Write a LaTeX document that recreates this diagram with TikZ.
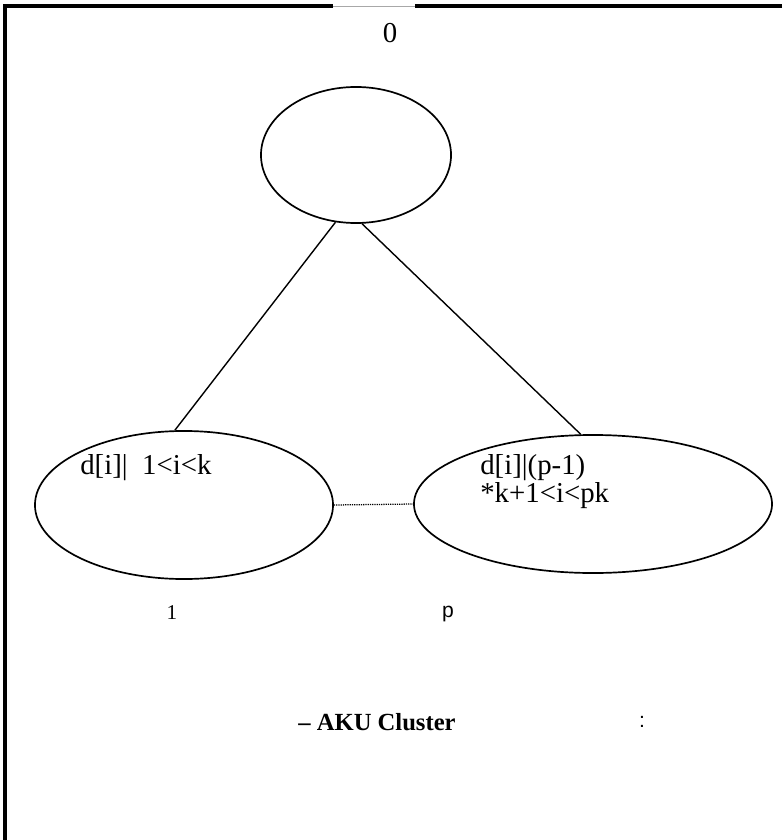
\documentclass[tikz,border=0pt]{standalone}
\usepackage{fontspec}
\setmainfont{Liberation Serif}
\setsansfont{Liberation Sans}
\usetikzlibrary{shapes.geometric}
\definecolor{darkline}{HTML}{000000}
\definecolor{gapgray}{HTML}{A8A8A8}
\tikzset{
  cluster/.style={
    ellipse,
    draw=darkline,
    line width=1.2pt,
    inner sep=0pt
  },
  root/.style={cluster, minimum width=4.75cm, minimum height=3.4cm},
  firstcl/.style={cluster, minimum width=7.45cm, minimum height=3.7cm},
  lastcl/.style={cluster, minimum width=8.95cm, minimum height=3.45cm},
  label/.style={font=\fontsize{20.5}{20}\selectfont, inner sep=0pt, align=left},
  idx/.style={font=\fontsize{15}{18}\selectfont, inner sep=0pt},
  caption/.style={font=\fontsize{17.5}{21}\selectfont\bfseries, inner sep=0pt},
  link/.style={draw=darkline, line width=1pt},
  dotlink/.style={draw=darkline, line width=0.9pt, dash pattern=on 0.8pt off 0.8pt},
  frame/.style={draw=darkline, line width=2.2pt}
}

\begin{document}
\begin{tikzpicture}[x=0.025cm, y=-0.025cm]
\useasboundingbox (0,0) rectangle (782,840);

% Frame.
\draw[frame] (782,6) -- (415,6);
\draw[frame] (333,6) -- (5,6) -- (5,840);
\draw[gapgray, line width=0.6pt] (333,6) -- (415,6);

% Root.
\node[label] (rootnum) at (390,33) {0};
\node[root] (top) at (356,155) {};

% Clusters.
\node[firstcl] (left) at (184,505) {};
\node[lastcl] (right) at (593,504) {};
\node[label, anchor=west] (lefttext) at (80,468) {d[i]|\ \ 1<i<k};
\node[label, anchor=north west] (righttext) at (480,454) {d[i]|(p-1)\\*k+1<i<pk};
\node[idx] (leftnum) at (172,613) {1};
\node[idx, font=\fontsize{15}{18}\selectfont\sffamily] (rightnum) at (448,614) {p};

% Caption.
\node[caption] (cap) at (377,722) {– AKU Cluster};
\node[idx, font=\fontsize{15}{18}\selectfont\sffamily] (colon) at (642,722) {:};

% Links.
\draw[link] (top.-107) -- (left.97);
\draw[link] (top.-85) -- (right.100);
\draw[dotlink] (left.east) -- (right.west);

\end{tikzpicture}
\end{document}
